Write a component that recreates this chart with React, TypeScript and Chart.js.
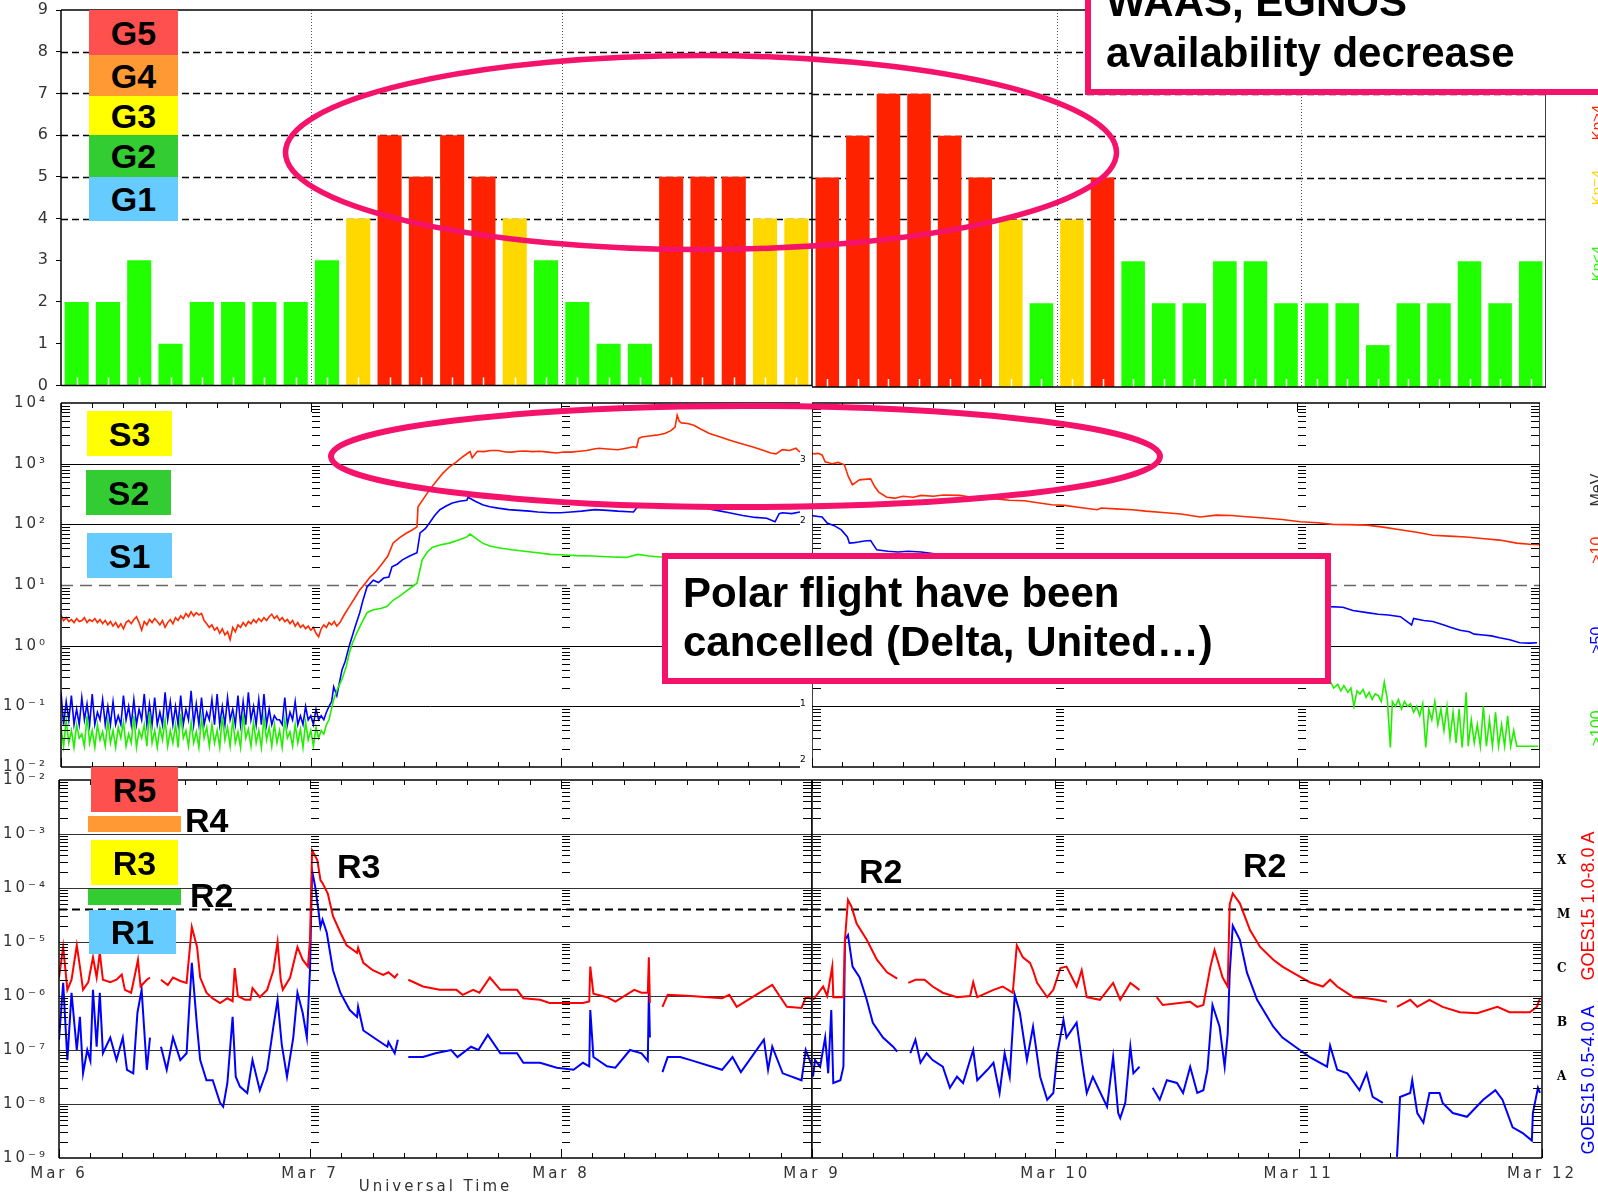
import React, { useEffect, useRef } from 'react';
import { Chart, registerables } from 'chart.js';

Chart.register(...registerables);

// ====================== DATA ======================
// Kp index, 3-hour bins
const KP_BINS = ['00', '03', '06', '09', '12', '15', '18', '21'];
const KP_DAYS_LEFT = ['Mar 6', 'Mar 7', 'Mar 8'];
const KP_DAYS_RIGHT = ['Mar 9', 'Mar 10', 'Mar 11'];
const KP_LEFT = [2, 2, 3, 1, 2, 2, 2, 2, 3, 4, 6, 5, 6, 5, 4, 3, 2, 1, 1, 5, 5, 5, 4, 4];
const KP_RIGHT = [5, 6, 7, 7, 6, 5, 4, 2, 4, 5, 3, 2, 2, 3, 3, 2, 2, 2, 1, 2, 2, 3, 2, 3];
const KP_TICKS = [0, 1, 2, 3, 4, 5, 6, 7, 8, 9];

// Proton flux (pfu), hours from Mar 6 00 UT (left) / Mar 9 00 UT (right)
const BASE_STEP = 0.25;
const P_L_RED_BASE = [
  3.2, 2.6, 2.9, 2.5, 2.7, 2.4, 2.8, 2.5,
  2.6, 2.9, 2.4, 2.7, 2.5, 2.8, 2.4, 2.7,
  2.3, 2.6, 2.2, 2.5, 2.1, 2.4, 2.0, 2.3,
  1.9, 2.4, 2.6, 2.3, 2.7, 3.0, 2.4, 1.8,
  2.5, 2.2, 2.7, 2.4, 2.8, 2.5, 2.2, 2.6,
  2.0, 2.4, 2.7, 2.3, 2.9, 2.6, 3.1, 2.8,
  3.4, 3.0, 3.6, 3.1, 3.5, 3.2, 3.4, 2.6,
  2.3, 2.0, 2.2, 1.8, 2.0, 1.6, 1.9, 1.5,
  1.7, 1.26, 2.0, 1.7, 2.2, 2.0, 2.4, 2.1,
  2.5, 2.3, 2.7, 2.4, 2.8, 2.5, 2.9, 2.6,
  3.0, 3.3, 2.8, 3.1, 2.6, 2.9, 2.5, 2.7,
  2.3, 2.6, 2.1, 2.4, 2.0, 2.2, 1.9, 2.1,
  1.8, 2.0, 1.6, 1.4, 1.9, 2.2, 2.0, 2.4,
  2.2, 2.5, 2.1,
];
const P_L_RED: (number | null)[][] = [
  [26.8, 2.4], [27.2, 3.2], [27.7, 4.4], [28.2, 6.0], [28.7, 8.3], [29.2, 10.5], [29.7, 13.5], [30.3, 17],
  [30.9, 23], [31.4, 30], [31.9, 49], [32.5, 60], [33.2, 72], [33.7, 80], [34.2, 91], [34.3, 195],
  [34.8, 260], [35.4, 370], [36.0, 500], [36.7, 700], [37.3, 880], [38.0, 1070], [38.6, 1300], [39.3, 1580],
  [39.5, 1250], [40.0, 1600], [40.6, 1580], [41.3, 1650], [42.0, 1650], [42.7, 1560], [43.3, 1550], [44.0, 1600],
  [44.6, 1620], [45.3, 1580], [46.0, 1600], [46.8, 1550], [47.6, 1500], [48.3, 1560], [49.0, 1550], [49.8, 1600],
  [50.5, 1650], [51.2, 1750], [51.7, 1800], [52.5, 1750], [53.5, 1700], [54.3, 1800], [55.0, 1900], [55.3, 1850],
  [55.5, 2600], [55.8, 2750], [56.5, 2850], [57.2, 2950], [58.0, 3150], [58.6, 3500], [59.0, 4000], [59.2, 6300],
  [59.4, 5000], [59.6, 4700], [60.2, 4600], [60.8, 4300], [61.5, 3700], [62.3, 3150], [63.2, 2800], [64.2, 2450],
  [65.3, 2150], [66.4, 1900], [67.3, 1700], [68.2, 1500], [68.7, 1450], [69.3, 1700], [70.0, 1650], [70.6, 1800], [71.0, 1550],
];
const P_L_BLUE_BASE = [
  0.17, 0.05, 0.12, 0.06, 0.15, 0.05, 0.09, 0.05, 0.14, 0.06, 0.11, 0.05, 0.16, 0.05, 0.08, 0.06, 0.13, 0.05, 0.1, 0.05,
  0.12, 0.05, 0.07, 0.05, 0.15, 0.06, 0.1, 0.05, 0.13, 0.05, 0.09, 0.06, 0.16, 0.05, 0.11, 0.05, 0.14, 0.05, 0.08, 0.05,
  0.17, 0.06, 0.12, 0.05, 0.1, 0.05, 0.15, 0.05, 0.09, 0.06, 0.18, 0.05, 0.11, 0.05, 0.14, 0.05, 0.08, 0.06, 0.13, 0.05,
  0.16, 0.05, 0.1, 0.05, 0.14, 0.06, 0.09, 0.05, 0.15, 0.05, 0.12, 0.05, 0.17, 0.06, 0.1, 0.05, 0.13, 0.05, 0.16, 0.05,
  0.09, 0.05, 0.07, 0.06, 0.06, 0.05, 0.14, 0.05, 0.08, 0.06, 0.12, 0.05, 0.07, 0.05, 0.1, 0.06, 0.07, 0.05, 0.09, 0.06,
  0.07, 0.06, 0.08, 0.1,
];
const P_L_BLUE: (number | null)[][] = [
  [26.0, 0.12], [26.2, 0.21], [26.5, 0.15], [27.0, 0.4], [27.3, 0.55], [27.7, 1.0], [28.2, 1.9], [28.7, 3.5],
  [29.0, 5.5], [29.4, 9.3], [30.0, 12], [30.5, 11], [31.0, 13], [31.5, 13.5], [31.8, 20], [32.3, 22],
  [32.8, 26], [33.5, 30], [34.2, 34], [34.5, 72], [35.0, 85], [35.4, 105], [35.9, 140], [36.4, 174],
  [37.0, 200], [37.6, 225], [38.3, 240], [39.0, 250], [39.1, 280], [39.8, 240], [40.5, 210], [41.2, 195],
  [42.0, 185], [43.0, 175], [44.0, 170], [45.0, 165], [45.8, 160], [47.0, 155], [48.0, 155], [49.0, 160],
  [50.0, 165], [51.3, 175], [52.5, 170], [53.5, 165], [55.0, 160], [55.4, 195], [56.5, 200], [57.5, 198],
  [59.0, 200], [60.0, 205], [60.8, 210], [61.5, 195], [62.5, 175], [63.4, 165], [64.2, 155], [65.5, 140],
  [66.7, 130], [67.8, 126], [68.6, 110], [69.0, 150], [69.3, 155], [70.2, 150], [71.0, 160],
];
const P_L_GREEN_BASE = [
  0.045, 0.022, 0.06, 0.025, 0.04, 0.021, 0.05, 0.03, 0.035, 0.022, 0.07, 0.025, 0.04, 0.021, 0.05, 0.028, 0.038, 0.022, 0.06, 0.025,
  0.04, 0.021, 0.045, 0.03, 0.055, 0.022, 0.035, 0.025, 0.07, 0.021, 0.04, 0.03, 0.05, 0.022, 0.08, 0.025, 0.04, 0.021, 0.045, 0.028,
  0.06, 0.022, 0.04, 0.025, 0.05, 0.021, 0.075, 0.03, 0.04, 0.022, 0.055, 0.025, 0.038, 0.021, 0.065, 0.03, 0.045, 0.022, 0.05, 0.025,
  0.04, 0.021, 0.07, 0.028, 0.045, 0.022, 0.06, 0.025, 0.038, 0.021, 0.075, 0.03, 0.042, 0.022, 0.055, 0.025, 0.04, 0.021, 0.065, 0.028,
  0.045, 0.022, 0.05, 0.025, 0.04, 0.021, 0.06, 0.03, 0.038, 0.022, 0.05, 0.025, 0.042, 0.021, 0.055, 0.028, 0.04, 0.022, 0.045, 0.03,
  0.04, 0.035, 0.05, 0.06,
];
const P_L_GREEN: (number | null)[][] = [
  [26.2, 0.13], [26.6, 0.2], [27.0, 0.28], [27.4, 0.45], [27.7, 0.76], [28.0, 1.1], [28.4, 1.6], [28.9, 2.4],
  [29.4, 3.5], [30.0, 3.9], [30.7, 4.1], [31.3, 4.4], [31.9, 5.6], [32.5, 6.5], [33.2, 8], [34.2, 10.7],
  [34.7, 26], [35.2, 35], [35.7, 42], [36.5, 46], [37.3, 49], [38.2, 55], [39.0, 62], [39.3, 69],
  [39.8, 60], [40.5, 49], [41.2, 44], [42.0, 41], [43.3, 38], [44.5, 36], [45.8, 34], [47.0, 32],
  [48.0, 31.6], [49.5, 30.5], [51.0, 30], [53.0, 29], [54.3, 28.5], [55.4, 32], [56.5, 30], [57.6, 29],
  [59, 28], [61, 27], [63, 26], [65, 25], [67, 24.5], [69, 24], [71, 23],
];
const P_R_RED: (number | null)[][] = [
  [0, 1500], [0.2, 1450], [0.6, 1480], [1.0, 1390], [1.3, 1070], [2.0, 1000], [2.6, 1050], [3.2, 960],
  [3.6, 610], [4.0, 450], [4.4, 500], [4.7, 540], [5.2, 550], [5.8, 560], [6.2, 420], [6.6, 340],
  [7.4, 280], [8.2, 270], [9, 290], [10, 280], [10.8, 300], [12, 290], [13, 305], [14.6, 300],
  [15.5, 285], [16.5, 270], [18, 265], [19.5, 250], [21, 245], [22.5, 225], [23.7, 210], [25, 205],
  [26.5, 190], [28.2, 174], [28.6, 186], [30, 180], [31.7, 174], [33, 165], [35, 155], [36.5, 148],
  [38.4, 132], [40, 142], [41.5, 140], [43, 133], [45, 126], [46.5, 120], [48.3, 110], [50, 106],
  [51.5, 100], [53, 99], [54.9, 97], [56.5, 90], [58, 82], [59.8, 74], [61.4, 66], [63, 64],
  [64.7, 62], [66.5, 58], [68, 55], [69.7, 49], [71, 47], [72, 46],
];
const P_R_BLUE: (number | null)[][] = [
  [0, 140], [0.2, 138], [0.6, 135], [1.0, 132], [1.5, 105], [2.2, 95], [2.9, 81], [3.5, 62],
  [3.7, 49], [4.2, 50], [4.6, 51], [5.2, 53], [5.8, 54], [6.4, 38], [7.5, 36], [8.5, 35],
  [9.5, 36], [10.8, 35], [12.5, 32], [15, 30], [17.5, 27], [20, 24], [22.5, 21], [25, 18],
  [27.5, 15.5], [30, 13], [32.5, 11], [35, 9.5], [37.5, 8.2], [40, 7], [42.5, 6.2], [45, 5.5],
  [47.5, 5.0], [50, 4.6], [51.2, 4.4], [52.5, 4.3], [53.5, 3.8], [54.9, 3.5], [56, 3.3], [57, 3.2],
  [58.2, 3.0], [59.3, 2.2], [59.5, 2.8], [60.5, 2.6], [61.4, 2.5], [62.5, 2.2], [63.2, 2.0], [64.1, 1.8],
  [65, 1.7], [65.5, 1.55], [66.4, 1.5], [67.2, 1.45], [68, 1.35], [69, 1.25], [70, 1.12], [71, 1.1], [71.7, 1.12],
];
const P_R_GREEN: (number | null)[][] = [
  [0, 22], [3, 18], [6, 14], [10, 10], [15, 7], [20, 4.5], [25, 3], [30, 1.8], [35, 1.1], [40, 0.7], [45, 0.42], [48, 0.3],
  [51.3, 0.25], [51.6, 0.2], [52, 0.23], [52.3, 0.18], [52.6, 0.22], [53, 0.17], [53.3, 0.2], [53.6, 0.1],
  [53.9, 0.18], [54.2, 0.16], [54.5, 0.19], [54.8, 0.14], [55.1, 0.17], [55.4, 0.13], [55.7, 0.16], [56, 0.15],
  [56.3, 0.12], [56.6, 0.25], [56.9, 0.13], [57.2, 0.021], [57.4, 0.12], [57.7, 0.1], [58, 0.13], [58.3, 0.09],
  [58.6, 0.12], [58.9, 0.1], [59.2, 0.11], [59.5, 0.08], [59.8, 0.1], [60.1, 0.07], [60.4, 0.11], [60.7, 0.021],
  [61, 0.09], [61.3, 0.06], [61.6, 0.12], [61.9, 0.05], [62.2, 0.09], [62.5, 0.04], [62.8, 0.1], [63.1, 0.03],
  [63.4, 0.08], [63.7, 0.025], [64, 0.09], [64.3, 0.021], [64.7, 0.17], [64.9, 0.022], [65.2, 0.06], [65.5, 0.025],
  [65.8, 0.05], [66.1, 0.022], [66.4, 0.1], [66.7, 0.022], [67, 0.06], [67.3, 0.022], [67.6, 0.08], [67.9, 0.022],
  [68.2, 0.05], [68.5, 0.022], [68.8, 0.07], [69.1, 0.022], [69.4, 0.04], [69.7, 0.022], [71.8, 0.022],
];
const P_TICK_VALUES = [1e-2, 1e-1, 1e0, 1e1, 1e2, 1e3, 1e4];
const P_TICK_LABELS = ['10⁻²', '10⁻¹', '10⁰', '10¹', '10²', '10³', '10⁴'];

// GOES X-ray flux (W/m²)
const X_L_RED: (number | null)[][] = [
  [0, 2.2e-6], [0.4, 8.1e-6], [0.8, 1.3e-6], [1.2, 2.0e-6], [1.7, 8.7e-6], [2.0, 3.5e-6], [2.3, 1.3e-6], [2.8, 1.8e-6],
  [3.25, 5.2e-6], [3.6, 2.2e-6], [3.9, 6.3e-6], [4.2, 2.0e-6], [4.9, 1.8e-6], [5.5, 2.0e-6], [6.0, 2.5e-6], [6.3, 1.3e-6],
  [6.9, 1.15e-6], [7.3, 2.7e-6], [7.55, 4.7e-6], [7.8, 1.5e-6], [8.4, 2.0e-6], [8.7, 2.2e-6], [9.2, null],
  [9.75, 2.0e-6], [10.4, 1.6e-6], [10.9, 2.2e-6], [11.6, 1.9e-6], [12.2, 1.75e-6], [12.7, 1.9e-5], [13.2, 8.1e-6],
  [13.5, 2.2e-6], [14.1, 1.15e-6], [14.7, 9.0e-7], [15.4, 7.4e-7], [16.1, 9.1e-7], [16.6, 8.0e-7], [16.8, 3.3e-6],
  [17.1, 1.0e-6], [17.8, 8.5e-7], [18.3, 8.5e-7], [18.5, 1.4e-6], [19.2, 9.5e-7], [19.9, 1.3e-6], [20.5, 3.0e-6],
  [20.9, 1.0e-5], [21.2, 2.0e-6], [21.4, 1.3e-6], [22.1, 2.2e-6], [22.8, 8.1e-6], [23.3, 4.7e-6], [23.8, 3.5e-6],
  [24.0, 1.1e-5], [24.2, 5.0e-4], [24.7, 3.3e-4], [25.0, 1.4e-4], [25.2, 1.23e-4], [25.7, 7.9e-5], [26.2, 3.0e-5],
  [26.9, 1.5e-5], [27.5, 8.7e-6], [28.5, 6.3e-6], [28.6, 7.8e-6], [29.1, 4.1e-6], [30.0, 3.0e-6], [31.0, 2.45e-6],
  [31.5, 2.75e-6], [32.1, 2.2e-6], [32.4, 2.6e-6], [33.0, null], [33.4, 2.0e-6], [34.8, 1.5e-6], [36.4, 1.3e-6],
  [38.0, 1.3e-6], [38.6, 1.05e-6], [39.6, 1.3e-6], [40.2, 1.15e-6], [41.2, 2.2e-6], [42.2, 1.3e-6], [43.8, 1.3e-6],
  [44.4, 9.1e-7], [46.0, 8.5e-7], [46.9, 7.4e-7], [48.2, 7.4e-7], [50.1, 7.4e-7], [50.7, 7.9e-7], [50.8, 3.5e-6],
  [51.1, 1.1e-6], [52.4, 9.5e-7], [53.2, 7.9e-7], [55.0, 1.3e-6], [55.7, 1.15e-6], [56.3, 1.15e-6], [56.4, 5.2e-6],
  [56.5, 7.4e-7], [57.0, null], [57.7, 6.3e-7], [58.2, 1.05e-6], [60.4, 1.0e-6], [63.4, 9.1e-7], [64.1, 1.05e-6],
  [64.8, 6.3e-7], [67.0, 1.15e-6], [68.2, 1.6e-6], [68.9, 1.0e-6], [69.6, 6.3e-7], [71.0, 6.0e-7], [71.4, 9.5e-7], [72, 8.9e-7],
];
const X_L_BLUE: (number | null)[][] = [
  [0, 1.55e-7], [0.4, 1.75e-6], [0.8, 6.5e-8], [1.2, 1.15e-6], [1.7, 1.0e-7], [2.0, 4.1e-7], [2.3, 3.7e-8], [2.7, 1.0e-7],
  [3.0, 6.3e-8], [3.25, 1.3e-6], [3.6, 1.15e-7], [3.9, 1.15e-6], [4.2, 8.7e-8], [4.9, 1.7e-7], [5.5, 6.5e-8], [6.1, 1.7e-7],
  [6.5, 4.3e-8], [7.1, 3.7e-8], [7.5, 4.9e-7], [7.9, 1.3e-6], [8.4, 4.3e-8], [8.7, 1.7e-7], [9.2, null],
  [9.75, 1.15e-7], [10.3, 4.3e-8], [10.9, 1.7e-7], [11.6, 6.5e-8], [12.2, 8.7e-8], [12.7, 4.1e-6], [13.2, 2.7e-7],
  [13.5, 6.5e-8], [14.1, 2.75e-8], [14.7, 2.75e-8], [15.4, 1.05e-8], [15.7, 8.9e-9], [16.1, 2.45e-8], [16.6, 4.1e-7],
  [16.9, 3.2e-8], [17.3, 2.1e-8], [18.0, 1.6e-8], [18.5, 6.5e-8], [19.2, 1.8e-8], [19.9, 4.3e-8], [20.5, 2.7e-7],
  [20.9, 8.5e-7], [21.3, 1.26e-7], [21.8, 3.2e-8], [22.4, 1.7e-7], [22.8, 1.15e-6], [23.3, 4.9e-7], [23.7, 1.7e-7],
  [24.0, 3.0e-6], [24.2, 2.1e-4], [24.5, 1.05e-4], [24.8, 3.9e-5], [25.0, 1.9e-5], [25.2, 2.6e-5], [25.6, 1.5e-5],
  [26.2, 3.0e-6], [26.9, 1.15e-6], [27.8, 5.5e-7], [28.5, 4.1e-7], [28.6, 6.3e-7], [29.1, 2.3e-7], [30.4, 1.55e-7],
  [31.4, 1.15e-7], [31.5, 1.4e-7], [32.1, 8.7e-8], [32.4, 1.55e-7], [33.0, null], [33.4, 7.4e-8], [34.8, 7.4e-8],
  [36.0, 8.7e-8], [37.5, 1.0e-7], [38.1, 7.4e-8], [39.4, 1.15e-7], [40.1, 1.0e-7], [41.0, 1.9e-7], [42.2, 8.7e-8],
  [43.8, 8.7e-8], [44.4, 5.8e-8], [46.0, 5.8e-8], [47.6, 4.7e-8], [49.2, 4.3e-8], [50.1, 5.8e-8], [50.7, 5.0e-8],
  [50.8, 5.5e-7], [51.1, 7.4e-8], [52.4, 5.0e-8], [53.2, 4.7e-8], [54.6, 1.0e-7], [55.7, 8.7e-8], [56.3, 6.3e-8],
  [56.4, 1.15e-6], [56.5, 1.7e-7], [57.0, null], [57.7, 3.9e-8], [58.2, 7.4e-8], [59.4, 7.4e-8], [60.4, 6.5e-8],
  [63.4, 4.3e-8], [64.4, 7.4e-8], [65.2, 3.9e-8], [67.4, 1.55e-7], [67.8, 4.3e-8], [68.2, 1.15e-7], [69.2, 3.7e-8],
  [71.0, 2.75e-8], [71.4, 1.0e-7], [72, 5.0e-8],
];
const X_R_RED: (number | null)[][] = [
  [0.1, 8.5e-7], [1.1, 1.5e-6], [1.5, 1.0e-6], [2.0, 3.5e-6], [2.1, 9.5e-7], [3.1, 9.5e-7], [3.25, 1.1e-5], [3.55, 6.0e-5],
  [3.9, 4.5e-5], [4.4, 2.2e-5], [5.4, 1.1e-5], [6.4, 4.7e-6], [7.4, 2.75e-6], [8.4, 2.1e-6], [9.0, null], [9.5, 1.75e-6],
  [10.2, 2.0e-6], [11.1, 2.0e-6], [11.9, 1.5e-6], [12.9, 1.15e-6], [14.3, 9.5e-7], [15.6, 1.0e-6], [15.9, 1.8e-6],
  [16.3, 9.5e-7], [17.9, 1.3e-6], [18.8, 1.5e-6], [19.8, 1.15e-6], [20.2, 8.7e-6], [20.8, 5.2e-6], [21.5, 4.1e-6],
  [21.8, 3.0e-6], [22.2, 1.75e-6], [23.2, 9.5e-7], [23.8, 1.3e-6], [24.5, 3.3e-6], [25.1, 3.5e-6], [26.1, 1.5e-6],
  [26.6, 3.0e-6], [27.1, 9.5e-7], [28.4, 8.5e-7], [29.7, 1.75e-6], [30.4, 8.5e-7], [31.4, 1.75e-6], [32.3, 1.3e-6],
  [33.0, null], [34.0, 9.5e-7], [34.6, 6.8e-7], [37.3, 7.8e-7], [38.0, 6.3e-7], [38.6, 6.8e-7], [39.3, 3.5e-6],
  [39.7, 7.1e-6], [40.5, 2.2e-6], [41.0, 1.5e-6], [41.2, 5.0e-5], [41.5, 7.9e-5], [42.2, 5.2e-5], [43.2, 1.66e-5],
  [44.2, 8.1e-6], [45.5, 4.7e-6], [46.4, 3.5e-6], [47.8, 2.45e-6], [49.1, 1.8e-6], [50.4, 1.5e-6], [51.1, 2.0e-6],
  [51.8, 1.5e-6], [53.4, 9.5e-7], [54.7, 9.1e-7], [55.7, 8.5e-7], [56.7, 7.8e-7], [57.3, null], [57.7, 6.3e-7],
  [59.0, 8.5e-7], [59.7, 6.3e-7], [60.9, 8.5e-7], [62.2, 6.3e-7], [63.9, 5.0e-7], [65.6, 4.8e-7], [67.6, 6.3e-7],
  [68.8, 5.0e-7], [70.8, 5.0e-7], [71.5, 6.3e-7], [71.8, 9.1e-7],
];
const X_R_BLUE: (number | null)[][] = [
  [0.1, 3.2e-8], [0.3, 6.5e-8], [0.8, 4.9e-8], [1.3, 1.7e-7], [1.6, 3.7e-8], [1.9, 5.5e-7], [2.1, 2.45e-8], [2.8, 2.75e-8],
  [3.1, 4.9e-8], [3.25, 1.1e-5], [3.55, 1.35e-5], [4.0, 3.5e-6], [4.7, 2.2e-6], [5.4, 8.5e-7], [6.0, 3.2e-7], [7.0, 1.7e-7],
  [8.0, 1.15e-7], [8.4, 9.3e-8], [9.0, null], [9.7, 8.7e-8], [10.2, 1.55e-7], [10.7, 5.8e-8], [11.3, 8.7e-8], [11.9, 6.5e-8],
  [12.9, 4.9e-8], [13.6, 2.0e-8], [14.3, 3.2e-8], [14.9, 2.45e-8], [15.9, 1.0e-7], [16.3, 2.75e-8], [17.3, 4.3e-8],
  [17.9, 5.8e-8], [18.5, 1.6e-8], [19.0, 8.7e-8], [19.5, 3.2e-8], [20.0, 1.05e-6], [20.5, 4.9e-7], [21.2, 6.5e-8],
  [21.8, 2.7e-7], [22.5, 3.2e-8], [23.2, 1.2e-8], [23.8, 1.6e-8], [24.2, 8.7e-8], [24.8, 3.6e-7], [25.1, 1.7e-7],
  [26.1, 3.2e-7], [26.7, 4.9e-8], [27.1, 1.6e-8], [27.7, 3.2e-8], [29.1, 8.9e-9], [29.7, 7.4e-8], [30.2, 6.8e-9],
  [30.4, 5.5e-9], [30.9, 1.05e-8], [31.4, 1.15e-7], [31.7, 3.7e-8], [32.3, 4.9e-8], [33.0, null], [33.6, 2.0e-8],
  [34.3, 1.2e-8], [35.0, 2.75e-8], [36.0, 2.45e-8], [36.6, 1.6e-8], [37.3, 4.9e-8], [38.0, 1.6e-8], [38.6, 1.8e-8],
  [39.0, 4.3e-8], [39.5, 6.8e-7], [40.2, 2.7e-7], [40.7, 4.9e-8], [41.0, 2.0e-7], [41.2, 2.7e-6], [41.5, 2.0e-5],
  [42.2, 1.1e-5], [42.9, 2.7e-6], [43.9, 8.5e-7], [45.5, 2.7e-7], [46.4, 1.7e-7], [47.8, 1.1e-7], [49.1, 7.4e-8],
  [50.8, 4.9e-8], [51.1, 1.2e-7], [51.8, 4.3e-8], [52.8, 3.7e-8], [54.0, 1.8e-8], [54.7, 3.7e-8], [55.3, 1.35e-8],
  [56.3, 1.05e-8], [57.0, null], [57.7, 1.05e-9], [58.0, 1.35e-8], [59.0, 1.6e-8], [59.2, 2.75e-8], [59.7, 6.8e-9],
  [60.3, 4.5e-9], [60.9, 1.6e-8], [61.9, 1.6e-8], [62.2, 1.05e-8], [63.2, 6.8e-9], [64.6, 5.8e-9], [66.2, 1.2e-8],
  [67.4, 1.8e-8], [68.1, 1.2e-8], [69.1, 3.7e-9], [70.1, 2.9e-9], [71.0, 2.1e-9], [71.1, 6.8e-9], [71.6, 2.0e-8], [71.8, 1.6e-8],
];
const X_TICK_VALUES = [1e-9, 1e-8, 1e-7, 1e-6, 1e-5, 1e-4, 1e-3, 1e-2];
const X_TICK_LABELS = ['10⁻⁹', '10⁻⁸', '10⁻⁷', '10⁻⁶', '10⁻⁵', '10⁻⁴', '10⁻³', '10⁻²'];
const X_CLASS_VALUES = [3.16e-8, 3.16e-7, 3.16e-6, 3.16e-5, 3.16e-4];
const X_CLASS_LABELS = ['A', 'B', 'C', 'M', 'X'];
const R2_THRESHOLD = 4e-5;
const DAY_TICKS_LEFT = [0, 24, 48];
const DAY_LABELS_LEFT = ['Mar 6', 'Mar 7', 'Mar 8'];
const DAY_TICKS_RIGHT = [0, 24, 48, 72];
const DAY_LABELS_RIGHT = ['Mar 9', 'Mar 10', 'Mar 11', 'Mar 12'];

// ====================== STYLE ======================
const KP_RED = '#FF2200';
const KP_YELLOW = '#FFD800';
const KP_GREEN = '#22FF00';
const P_RED = '#FF2A00';
const P_BLUE = '#0000FF';
const P_GREEN = '#22EE00';
const X_RED = '#FF0000';
const X_BLUE = '#0000FF';
const PINK = '#F5126B';
const AXIS_COLOR = '#333';
const AXIS_FONT = "'DejaVu Sans', sans-serif";
const BOLD_FONT = "'Liberation Sans', Arial, Helvetica, sans-serif";

const kpColor = (v: number) => (v >= 5 ? KP_RED : v === 4 ? KP_YELLOW : KP_GREEN);
const fromBase = (base: number[], step: number) => base.map((v, i) => ({ x: i * step, y: v }));
const fromPairs = (p: (number | null)[][]) => p.map(([x, y]) => ({ x, y }));

// ====================== DECOR PLUGIN ======================
function makeDecor(cfg: any) {
  const seg = (ctx: any, x1: number, y1: number, x2: number, y2: number) => {
    ctx.beginPath();
    ctx.moveTo(x1, y1);
    ctx.lineTo(x2, y2);
    ctx.stroke();
  };
  return {
    id: 'decor',
    beforeDraw(chart: any) {
      chart.ctx.letterSpacing = '3px';
    },
    beforeDatasetsDraw(chart: any) {
      const { ctx, chartArea: a, scales } = chart;
      const xs = scales.x;
      const ys = scales.y;
      ctx.save();
      for (const l of cfg.hLines || []) {
        const y = Math.round(ys.getPixelForValue(l.v)) + 0.5;
        ctx.setLineDash(l.dash || []);
        ctx.strokeStyle = l.color;
        ctx.lineWidth = l.width;
        seg(ctx, a.left, y, a.right, y);
      }
      for (const l of cfg.vLines || []) {
        const x = Math.round(xs.getPixelForValue(l.v)) + 0.5;
        ctx.setLineDash(l.dash || []);
        ctx.strokeStyle = l.color;
        ctx.lineWidth = l.width;
        seg(ctx, x, a.top, x, a.bottom);
      }
      ctx.restore();
    },
    afterDatasetsDraw(chart: any) {
      const { ctx, chartArea: a, scales } = chart;
      const xs = scales.x;
      const ys = scales.y;
      ctx.save();
      ctx.setLineDash([]);
      if (cfg.barTicks) {
        ctx.strokeStyle = '#fff';
        ctx.lineWidth = 1.5;
        for (let i = 0; i < cfg.barTicks; i++) {
          const x = Math.round(xs.getPixelForValue(i)) + 0.5;
          seg(ctx, x, a.bottom, x, a.bottom - 8);
        }
      }
      ctx.strokeStyle = '#000';
      ctx.lineWidth = 1;
      if (cfg.xTickStep) {
        for (let h = xs.min; h <= xs.max + 1e-9; h += cfg.xTickStep) {
          const x = Math.round(xs.getPixelForValue(h)) + 0.5;
          const len = h % 24 === 0 ? 9 : 5;
          seg(ctx, x, a.top, x, a.top + len);
          seg(ctx, x, a.bottom, x, a.bottom - len);
        }
      }
      for (const c of cfg.clusters || []) {
        const x = Math.round(xs.getPixelForValue(c.v)) + (c.dir > 0 ? 1 : -1);
        const e0 = Math.round(Math.log10(ys.min));
        const e1 = Math.round(Math.log10(ys.max));
        for (let e = e0; e < e1; e++) {
          for (let m = 2; m <= 9; m++) {
            const y = Math.round(ys.getPixelForValue(m * Math.pow(10, e))) + 0.5;
            seg(ctx, x, y, x + c.dir * 8, y);
          }
        }
      }
      ctx.lineWidth = 1.5;
      const b = cfg.border || {};
      if (b.l) seg(ctx, a.left, a.top, a.left, a.bottom);
      if (b.r) seg(ctx, a.right, a.top, a.right, a.bottom);
      if (b.t) seg(ctx, a.left, a.top, a.right, a.top);
      if (b.b) seg(ctx, a.left, a.bottom, a.right, a.bottom);
      ctx.restore();
    },
  };
}

// ====================== CHART CONFIGS ======================
const baseOptions = () => ({
  responsive: false,
  maintainAspectRatio: false,
  animation: false,
  events: [],
  plugins: { legend: { display: false }, tooltip: { enabled: false } },
});

function kpConfig(values: number[], days: string[], showAxis: boolean, border: any) {
  const labels = days.flatMap((d) => KP_BINS.map((b) => `${d} ${b}`));
  return {
    type: 'bar',
    data: {
      labels,
      datasets: [
        { data: values, backgroundColor: values.map(kpColor), borderWidth: 0, barPercentage: 0.77, categoryPercentage: 1 },
      ],
    },
    options: {
      ...baseOptions(),
      layout: { padding: { top: 20, left: 0, right: 0, bottom: 0 } },
      scales: {
        x: {
          grid: { display: false },
          border: { display: false },
          ticks: { display: false },
          afterFit: (s: any) => { s.height = 13; },
        },
        y: showAxis
          ? {
              min: 0,
              max: 9,
              afterBuildTicks: (s: any) => { s.ticks = KP_TICKS.map((v) => ({ value: v })); },
              ticks: { color: AXIS_COLOR, font: { family: AXIS_FONT, size: 16 }, padding: 5 },
              grid: { display: true, drawOnChartArea: false, tickLength: 5, color: '#000', lineWidth: 1 },
              border: { display: false },
              afterFit: (s: any) => { s.width = 61; },
            }
          : { display: false, min: 0, max: 9 },
      },
    },
    plugins: [
      makeDecor({
        hLines: [4, 5, 6, 7, 8].map((v) => ({ v, color: '#000', width: 1.3, dash: [7, 4] })),
        vLines: [7.5, 15.5].map((v) => ({ v, color: '#555', width: 1, dash: [1, 2] })),
        barTicks: values.length,
        border,
      }),
    ],
  };
}

const lineDs = (data: any[], color: string, width = 1.6) => ({
  data,
  borderColor: color,
  borderWidth: width,
  pointRadius: 0,
  fill: false,
  tension: 0,
  spanGaps: false,
});

function protonConfig(left: boolean) {
  const datasets = left
    ? [
        lineDs([...fromBase(P_L_GREEN_BASE, BASE_STEP), ...fromPairs(P_L_GREEN)], P_GREEN),
        lineDs([...fromBase(P_L_BLUE_BASE, BASE_STEP), ...fromPairs(P_L_BLUE)], P_BLUE),
        lineDs([...fromBase(P_L_RED_BASE, BASE_STEP), ...fromPairs(P_L_RED)], P_RED),
      ]
    : [lineDs(fromPairs(P_R_GREEN), P_GREEN), lineDs(fromPairs(P_R_BLUE), P_BLUE), lineDs(fromPairs(P_R_RED), P_RED)];
  const hLines = [
    { v: 1e3, color: '#000', width: 1 },
    { v: 1e2, color: '#000', width: 1 },
    { v: 1e0, color: '#000', width: 1 },
    { v: 1e-1, color: '#000', width: 1 },
    { v: 1e1, color: '#666', width: 1.5, dash: [12, 7] },
  ];
  return {
    type: 'line',
    data: { datasets },
    options: {
      ...baseOptions(),
      layout: { padding: { top: 23, bottom: 20, left: 0, right: 0 } },
      scales: {
        x: { type: 'linear', display: false, min: 0, max: left ? 71 : 72 },
        y: left
          ? {
              type: 'logarithmic',
              min: 1e-2,
              max: 1e4,
              afterBuildTicks: (s: any) => { s.ticks = P_TICK_VALUES.map((v) => ({ value: v })); },
              ticks: { callback: (_v: any, i: number) => P_TICK_LABELS[i], color: AXIS_COLOR, font: { family: AXIS_FONT, size: 15 }, padding: 5 },
              grid: { display: false },
              border: { display: false },
              afterFit: (s: any) => { s.width = 61; },
            }
          : { type: 'logarithmic', display: false, min: 1e-2, max: 1e4 },
      },
    },
    plugins: [
      makeDecor({
        hLines,
        xTickStep: 3,
        clusters: left
          ? [{ v: 0, dir: 1 }, { v: 24, dir: 1 }, { v: 48, dir: 1 }]
          : [{ v: 0, dir: 1 }, { v: 24, dir: 1 }, { v: 48, dir: 1 }, { v: 72, dir: -1 }],
        border: left ? { l: 1, t: 1, b: 1 } : { l: 1, t: 1, b: 1, r: 1 },
      }),
    ],
  };
}

function xrayConfig(left: boolean) {
  const datasets = left
    ? [lineDs(fromPairs(X_L_RED), X_RED, 2), lineDs(fromPairs(X_L_BLUE), X_BLUE, 2)]
    : [lineDs(fromPairs(X_R_RED), X_RED, 2), lineDs(fromPairs(X_R_BLUE), X_BLUE, 2)];
  const hLines: any[] = [1e-3, 1e-4, 1e-5, 1e-6, 1e-7, 1e-8].map((v) => ({ v, color: '#333', width: 1.2 }));
  hLines.push({ v: R2_THRESHOLD, color: '#000', width: 2, dash: [8, 5] });
  const ticksX = left ? DAY_TICKS_LEFT : DAY_TICKS_RIGHT;
  const labelsX = left ? DAY_LABELS_LEFT : DAY_LABELS_RIGHT;
  const scales: any = {
    x: {
      type: 'linear',
      min: 0,
      max: 72,
      afterBuildTicks: (s: any) => { s.ticks = ticksX.map((v) => ({ value: v })); },
      ticks: {
        callback: (_v: any, i: number) => labelsX[i],
        autoSkip: false,
        maxRotation: 0,
        minRotation: 0,
        color: AXIS_COLOR,
        font: { family: AXIS_FONT, size: 15 },
        padding: -1,
      },
      grid: { display: false },
      border: { display: false },
      title: left
        ? { display: true, text: 'Universal Time', color: AXIS_COLOR, font: { family: AXIS_FONT, size: 15 }, padding: { top: 0, bottom: 4 } }
        : { display: false },
      afterFit: (s: any) => { s.height = 42; },
    },
    y: left
      ? {
          type: 'logarithmic',
          min: 1e-9,
          max: 1e-2,
          afterBuildTicks: (s: any) => { s.ticks = X_TICK_VALUES.map((v) => ({ value: v })); },
          ticks: { callback: (_v: any, i: number) => X_TICK_LABELS[i], color: AXIS_COLOR, font: { family: AXIS_FONT, size: 15 }, padding: 3 },
          grid: { display: false },
          border: { display: false },
          afterFit: (s: any) => { s.width = 59; },
        }
      : { type: 'logarithmic', display: false, min: 1e-9, max: 1e-2 },
  };
  if (!left) {
    scales.y2 = {
      type: 'logarithmic',
      position: 'right',
      min: 1e-9,
      max: 1e-2,
      afterBuildTicks: (s: any) => { s.ticks = X_CLASS_VALUES.map((v) => ({ value: v })); },
      ticks: { callback: (_v: any, i: number) => X_CLASS_LABELS[i], color: '#000', font: { family: "'DejaVu Serif', serif", size: 12, weight: 'bold' }, padding: 7 },
      grid: { display: false },
      border: { display: false },
      afterFit: (s: any) => { s.width = 40; },
    };
  }
  return {
    type: 'line',
    data: { datasets },
    options: {
      ...baseOptions(),
      layout: { padding: { top: 25, bottom: 0, left: left ? 0 : 40, right: 0 } },
      scales,
    },
    plugins: [
      makeDecor({
        hLines,
        xTickStep: 3,
        clusters: [{ v: 0, dir: 1 }, { v: 24, dir: 1 }, { v: 48, dir: 1 }, { v: 72, dir: -1 }],
        border: { l: 1, t: 1, b: 1, r: 1 },
      }),
    ],
  };
}

// ====================== COMPONENTS ======================
type Spec = { left: number; top: number; width: number; height: number; make: () => any };

function ChartCanvas({ spec }: { spec: Spec }) {
  const ref = useRef<HTMLCanvasElement>(null);
  useEffect(() => {
    const chart = new Chart(ref.current as HTMLCanvasElement, spec.make());
    return () => chart.destroy();
  }, []);
  return (
    <canvas
      ref={ref}
      width={spec.width}
      height={spec.height}
      style={{ position: 'absolute', left: spec.left, top: spec.top, width: spec.width, height: spec.height }}
    />
  );
}

const CHARTS: Spec[] = [
  { left: 0, top: -10, width: 812, height: 410, make: () => kpConfig(KP_LEFT, KP_DAYS_LEFT, true, { l: 1, t: 1, b: 1, r: 1 }) },
  { left: 812, top: -10, width: 734, height: 410, make: () => kpConfig(KP_RIGHT, KP_DAYS_RIGHT, false, { l: 1, t: 1, b: 1, r: 1 }) },
  { left: 0, top: 380, width: 800, height: 407, make: () => protonConfig(true) },
  { left: 812, top: 380, width: 728, height: 407, make: () => protonConfig(false) },
  { left: 0, top: 755, width: 812, height: 445, make: () => xrayConfig(true) },
  { left: 772, top: 755, width: 810, height: 445, make: () => xrayConfig(false) },
];

function ColorBox({ x, y, w, h, bg, text }: any) {
  return (
    <div
      style={{
        position: 'absolute', left: x, top: y, width: w, height: h, background: bg,
        display: 'flex', alignItems: 'center', justifyContent: 'center',
        font: `bold 34px ${BOLD_FONT}`, color: '#000', lineHeight: 1,
      }}
    >
      {text}
    </div>
  );
}

function BText({ x, baseline, size, text, color = '#000', weight = 700 }: any) {
  return (
    <div
      style={{
        position: 'absolute', left: x, top: baseline - size * 0.8465, fontFamily: BOLD_FONT, fontWeight: weight,
        fontSize: size, lineHeight: `${size}px`, color, whiteSpace: 'nowrap',
      }}
    >
      {text}
    </div>
  );
}

function RotText({ cx, cy, text, color, size, family = "'Liberation Sans', sans-serif" }: any) {
  return (
    <div
      style={{
        position: 'absolute', left: cx - 150, top: cy - size / 2, width: 300, height: size, lineHeight: `${size}px`,
        textAlign: 'center', fontFamily: family, fontSize: size, color, transform: 'rotate(-90deg)', whiteSpace: 'nowrap',
      }}
    >
      {text}
    </div>
  );
}

function Tiny({ x, y, text }: any) {
  return (
    <div style={{ position: 'absolute', left: x, top: y - 5, fontFamily: AXIS_FONT, fontSize: 9, lineHeight: '10px', color: '#000' }}>
      {text}
    </div>
  );
}

export default function App() {
  return (
    <div
      style={{
        position: 'fixed', left: 0, top: 0, width: 1598, height: 1193, overflow: 'hidden', background: '#fff',
      }}
    >
      {CHARTS.map((s, i) => (
        <ChartCanvas key={i} spec={s} />
      ))}

      {/* tiny right-axis marks of the left proton panel */}
      <Tiny x={800} y={459} text="3" />
      <Tiny x={800} y={520} text="2" />
      <Tiny x={800} y={703} text="1" />
      <Tiny x={800} y={759} text="2" />

      {/* G scale */}
      <ColorBox x={89} y={10} w={89} h={45} bg="#FF5050" text="G5" />
      <ColorBox x={89} y={55} w={89} h={41} bg="#FF9933" text="G4" />
      <ColorBox x={89} y={96} w={89} h={39} bg="#FFFF00" text="G3" />
      <ColorBox x={89} y={135} w={89} h={42} bg="#33CC33" text="G2" />
      <ColorBox x={89} y={177} w={89} h={44} bg="#66CCFF" text="G1" />

      {/* S scale */}
      <ColorBox x={87} y={411} w={85} h={45} bg="#FFFF00" text="S3" />
      <ColorBox x={86} y={470} w={85} h={45} bg="#33CC33" text="S2" />
      <ColorBox x={87} y={533} w={85} h={45} bg="#66CCFF" text="S1" />

      {/* R scale */}
      <ColorBox x={91} y={767} w={87} h={45} bg="#FF5050" text="R5" />
      <div style={{ position: 'absolute', left: 88, top: 816, width: 93, height: 16, background: '#FF9933' }} />
      <BText x={185} baseline={832} size={34} text="R4" />
      <ColorBox x={91} y={840} w={87} h={45} bg="#FFFF00" text="R3" />
      <div style={{ position: 'absolute', left: 88, top: 889, width: 93, height: 16, background: '#33CC33' }} />
      <BText x={190} baseline={907} size={34} text="R2" />
      <ColorBox x={89} y={910} w={87} h={44} bg="#66CCFF" text="R1" />

      {/* flare labels */}
      <BText x={337} baseline={878} size={34} text="R3" />
      <BText x={859} baseline={883} size={34} text="R2" />
      <BText x={1243} baseline={877} size={34} text="R2" />

      {/* ellipses */}
      <svg width={1598} height={1193} style={{ position: 'absolute', left: 0, top: 0, pointerEvents: 'none' }}>
        <ellipse cx={701} cy={152.5} rx={415.5} ry={97} fill="none" stroke={PINK} strokeWidth={5.5} />
        <ellipse cx={745.5} cy={456.5} rx={414.5} ry={50.5} fill="none" stroke={PINK} strokeWidth={6} />
      </svg>

      {/* WAAS box */}
      <div
        style={{
          position: 'absolute', left: 1085, top: -60, width: 600, height: 155, border: `6px solid ${PINK}`,
          boxSizing: 'border-box', background: '#fff',
        }}
      />
      <BText x={1106} baseline={17} size={42} text="WAAS, EGNOS" />
      <BText x={1106} baseline={68} size={42} text="availability decrease" />

      {/* Polar flight box */}
      <div
        style={{
          position: 'absolute', left: 662, top: 553, width: 669, height: 131, border: `6px solid ${PINK}`,
          boxSizing: 'border-box', background: '#fff',
        }}
      />
      <BText x={683} baseline={608} size={42} text="Polar flight have been" />
      <BText x={683} baseline={657} size={42} text="cancelled (Delta, United…)" />

      {/* right-hand labels */}
      <RotText cx={1596} cy={122} text="Kp>4" color={KP_RED} size={15} />
      <RotText cx={1596} cy={187} text="Kp=4" color={KP_YELLOW} size={15} />
      <RotText cx={1596} cy={263} text="Kp<4" color={KP_GREEN} size={15} />
      <RotText cx={1597} cy={490} text="MeV" color="#333" size={16} />
      <RotText cx={1597} cy={550} text="≥10" color={P_RED} size={16} />
      <RotText cx={1597} cy={640} text="≥50" color={P_BLUE} size={16} />
      <RotText cx={1597} cy={728} text="≥100" color={P_GREEN} size={16} />
      <RotText cx={1588} cy={906} text="GOES15 1.0-8.0 A" color={X_RED} size={18} />
      <RotText cx={1588} cy={1080} text="GOES15 0.5-4.0 A" color={X_BLUE} size={18} />
    </div>
  );
}
